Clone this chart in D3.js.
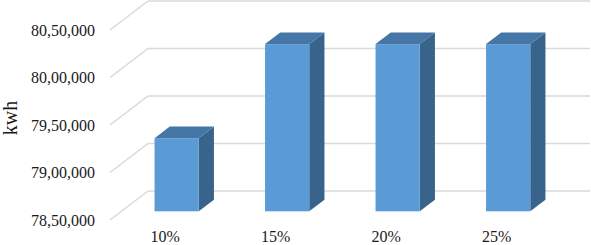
<!DOCTYPE html>
<html>
<head>
<meta charset="utf-8">
<script src="https://cdn.jsdelivr.net/npm/d3@7"></script>
<style>
    html, body { margin: 0; padding: 0; background: #fff; }
    svg text { font-family: "Liberation Serif", "Times New Roman", serif; fill: #1a1a1a; }
</style>
</head>
<body>
<svg id="chart" width="591" height="245"></svg>
<script>
    // chart data
    var categories = ['10%', '15%', '20%', '25%'];
    var energy = [7927000, 8026000, 8026000, 8026000];
    var yTicks = [7850000, 7900000, 7950000, 8000000, 8050000];
    var yTitle = 'kwh';

    var serif = '"Liberation Serif", "Times New Roman", serif';

    var depthX = 38,   // oblique offset of the full floor depth
        depthY = 29,
        barZ = [0.3, 0.7],
        gridColor = '#d9d9d9';

    var svg = d3.select('#chart');

    var x = d3.scaleBand()
        .domain(categories)
        .range([110, 552])
        .paddingInner(0)
        .paddingOuter(0);

    var y = d3.scaleLinear()
        .domain([7850000, 8050000])
        .range([220, 30]);

    var barWidth = x.bandwidth() * 0.4;

    function indian(n) {
        var s = String(Math.round(n)),
            last3 = s.slice(-3),
            rest = s.slice(0, -3);
        if (!rest) {
            return last3;
        }
        return rest.replace(/\B(?=(\d{2})+(?!\d))/g, ',') + ',' + last3;
    }

    // side wall + back wall gridlines
    var grid = svg.append('g');
    grid.selectAll('line.side')
        .data(yTicks)
        .enter()
        .append('line')
            .attr('x1', x.range()[0])
            .attr('y1', function(d) { return y(d); })
            .attr('x2', x.range()[0] + depthX)
            .attr('y2', function(d) { return y(d) - depthY; })
            .attr('stroke', gridColor)
            .attr('stroke-width', 1.5);

    grid.selectAll('line.back')
        .data(yTicks)
        .enter()
        .append('line')
            .attr('x1', x.range()[0] + depthX)
            .attr('x2', x.range()[1] + depthX)
            .attr('y1', function(d) { return y(d) - depthY; })
            .attr('y2', function(d) { return y(d) - depthY; })
            .attr('stroke', gridColor)
            .attr('stroke-width', 1.5);

    // value axis labels
    var yAxis = svg.append('g')
        .attr('transform', 'translate(95,0)')
        .call(d3.axisLeft(y).tickValues(yTicks).tickFormat(indian).tickSize(0).tickPadding(0));
    yAxis.attr('font-family', serif);
    yAxis.select('.domain').remove();
    yAxis.selectAll('text')
        .attr('font-size', 16)
        .style('font-family', serif)
        .attr('fill', '#1a1a1a');

    // category labels
    var xAxis = svg.append('g')
        .attr('transform', 'translate(0,242)')
        .call(d3.axisBottom(x).tickSize(0).tickPadding(0));
    xAxis.attr('font-family', serif);
    xAxis.select('.domain').remove();
    xAxis.selectAll('text')
        .attr('dy', 0)
        .attr('y', 0)
        .attr('font-size', 16)
        .style('font-family', serif)
        .attr('fill', '#1a1a1a');

    svg.append('text')
        .attr('transform', 'translate(17,118) rotate(-90)')
        .attr('text-anchor', 'middle')
        .attr('font-size', 20)
        .style('font-family', serif)
        .text(yTitle);

    // 3d bars
    var rows = categories.map(function(c, i) { return {cat: c, value: energy[i]}; });

    function corners(d) {
        var cx = x(d.cat) + x.bandwidth() / 2,
            l = cx - barWidth / 2,
            r = cx + barWidth / 2,
            top = y(d.value),
            bottom = y(y.domain()[0]),
            f = barZ[0], b = barZ[1];
        return {
            fl: l + f * depthX, fr: r + f * depthX,
            bl: l + b * depthX, br: r + b * depthX,
            ft: top - f * depthY, fb: bottom - f * depthY,
            bt: top - b * depthY, bb: bottom - b * depthY
        };
    }

    var bars = svg.selectAll('g.bar')
        .data(rows)
        .enter()
        .append('g')
            .attr('class', 'bar');

    // side face
    bars.append('path')
        .attr('fill', '#38648c')
        .attr('d', function(d) {
            var c = corners(d);
            return 'M' + c.fr + ',' + c.ft + 'L' + c.br + ',' + c.bt +
                'L' + c.br + ',' + c.bb + 'L' + c.fr + ',' + c.fb + 'Z';
        });

    // top face
    bars.append('path')
        .attr('fill', '#4576a6')
        .attr('d', function(d) {
            var c = corners(d);
            return 'M' + c.fl + ',' + c.ft + 'L' + c.bl + ',' + c.bt +
                'L' + c.br + ',' + c.bt + 'L' + c.fr + ',' + c.ft + 'Z';
        });

    // front face
    bars.append('rect')
        .attr('fill', '#5b9bd5')
        .attr('x', function(d) { return corners(d).fl; })
        .attr('y', function(d) { return corners(d).ft; })
        .attr('width', barWidth)
        .attr('height', function(d) { var c = corners(d); return c.fb - c.ft; });
</script>
</body>
</html>
